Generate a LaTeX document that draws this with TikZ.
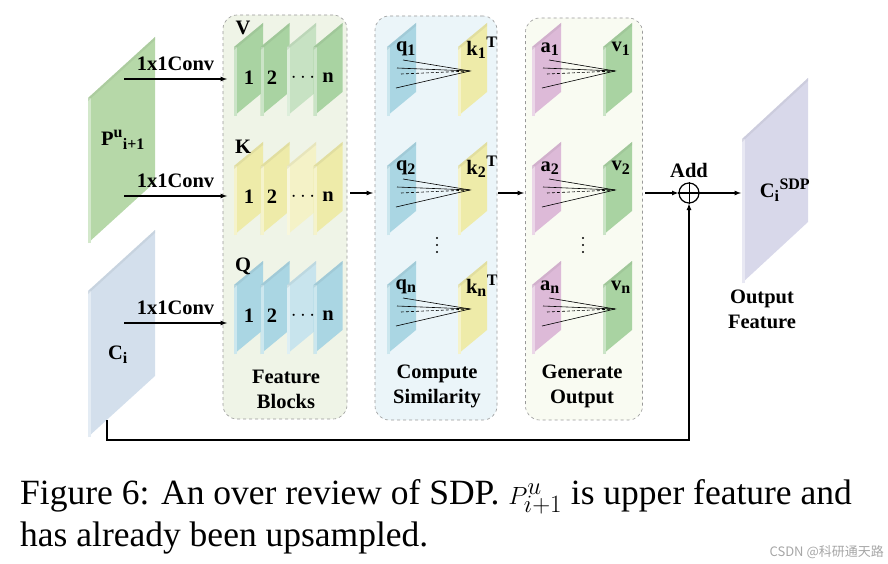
\documentclass[tikz,border=0pt]{standalone}
\usepackage{fontspec}
\setmainfont{Liberation Serif}
\newfontfamily\cjk{Noto Sans CJK SC}
\begin{document}
\begin{tikzpicture}[x=1pt,y=-1pt,
  panel/.style={draw=gray!80,dashed,rounded corners=14pt,line width=0.6pt},
  lab/.style={font=\bfseries\fontsize{20.5}{20.5}\selectfont,inner sep=0},
  two/.style={lab,align=center,font=\bfseries\fontsize{20.5}{25}\selectfont},
  arr/.style={-latex,line width=1.2pt},
  fan/.style={line width=0.6pt}]
\useasboundingbox (0,0) rectangle (888,564);
\newcommand{\myslab}[6]{%
  \fill[#6] (#1,#2) -- ++(#4,-#5) -- ++(0,#3-#2) -- ++(-#4,#5) -- cycle;
  \fill[#6!60!white] (#1,#2) -- ++(3,0) -- ++(0,#3-#2) -- ++(-3,0) -- cycle;
  \fill[#6!85!black,opacity=0.35] (#1,#2) -- ++(#4,-#5) -- ++(0,3) -- ++(-#4,#5) -- cycle;}
\newcommand{\mydots}[2]{\foreach \k in {-7,0,7}{\fill (#1,#2+\k) circle (1.2pt);}}
\newcommand{\sbs}[1]{\textsubscript{\fontsize{16}{16}\selectfont #1}}
\newcommand{\sps}[1]{\textsuperscript{\fontsize{16}{16}\selectfont #1}}
\definecolor{gP}{HTML}{B6D8A8}
\definecolor{bC}{HTML}{D3DFEC}
\definecolor{gV}{HTML}{A9D3A2}
\definecolor{yK}{HTML}{EEEBA9}
\definecolor{bQ}{HTML}{AAD6E3}
\definecolor{pA}{HTML}{DDBAD8}
\definecolor{pO}{HTML}{D8D8EA}
% panels
\node[panel,fill={rgb,255:red,239;green,244;blue,231},minimum width=124pt,minimum height=404pt] (p1) at (285,217) {};
\node[panel,fill={rgb,255:red,235;green,245;blue,249},minimum width=122pt,minimum height=404pt] (p2) at (436,218) {};
\node[panel,fill={rgb,255:red,249;green,251;blue,242},minimum width=117pt,minimum height=402pt] (p3) at (584,219) {};
% big slabs
\myslab{88}{98}{243}{67}{61}{gP}
\myslab{88}{291}{437}{67}{61}{bC}
\myslab{742}{139}{283}{66}{61}{pO}
\node[lab] (P) at (123,140) {P\sps{u}\sbs{i+1}};
\node[lab] (C) at (118,355) {C\sbs{i}};
\node[lab] (O) at (785,190) {C\sbs{i}\sps{SDP}};
% feature blocks
\foreach \r/\c/\L in {0/gV/V,1/yK/K,2/bQ/Q}{
  \pgfmathsetmacro{\t}{47+119*\r}
  \pgfmathsetmacro{\b}{116+119*\r}
  \foreach \i in {0,1,2,3}{
    \pgfmathsetmacro{\xx}{234+26.5*\i}
    \ifnum\i=2 \myslab{\xx}{\t}{\b}{29}{24}{\c!65!white}\else\myslab{\xx}{\t}{\b}{29}{24}{\c}\fi
  }
  \node[lab] at (243,\t-19) {\L};
  \node[lab] at (249,\t+31) {1};
  \node[lab] at (272,\t+31) {2};
  \node[lab] at (303,\t+31) {$\cdots$};
  \node[lab] at (328,\t+31) {n};
}
% compute similarity and generate output
\foreach \r/\s in {0/1,1/2,2/n}{
  \pgfmathsetmacro{\t}{47+119*\r}
  \pgfmathsetmacro{\b}{116+119*\r}
  \myslab{387}{\t}{\b}{29}{24}{bQ}
  \myslab{458}{\t}{\b}{29}{24}{yK}
  \myslab{532}{\t}{\b}{29}{24}{pA}
  \myslab{603}{\t}{\b}{29}{24}{gV}
  \node[lab] at (406,\t+2) {q\sbs{\s}};
  \node[lab] at (482,\t+1) {k\sbs{\s}\sps{T}};
  \node[lab] at (550,\t+2) {a\sbs{\s}};
  \node[lab] at (621,\t+2) {v\sbs{\s}};
  \foreach \x/\e in {396/470,542/615}{
    \draw[fan] (\x+7,\t+13) -- (\e,\t+24) -- (\x,\t+41);
    \draw[fan] (\x+1,\t+21) -- (\e,\t+24);
    \draw[fan,densely dashed] (\x+5,\t+27) -- (\e,\t+24);
  }
}
\mydots{437}{245}
\mydots{583}{245}
% labels
\node[two] at (286,389) {Feature\\Blocks};
\node[two] at (437,386) {Compute\\Similarity};
\node[two] at (582,386) {Generate\\Output};
\node[two] at (762,309) {Output\\Feature};
% arrows
\foreach \y/\n in {79/a,196/b,323/c}{
  \coordinate (s\n) at (124,\y); \coordinate (e\n) at (227,\y);
  \draw[arr] (s\n) -- node[lab,above=8pt] {1x1Conv} (e\n);
}
\coordinate (m1) at (350,193); \coordinate (m2) at (373,193);
\coordinate (m3) at (498,193); \coordinate (m4) at (524,193);
\coordinate (m5) at (645,193);
\draw[arr] (m1) -- (m2);
\draw[arr] (m3) -- (m4);
\node[draw,circle,line width=1.2pt,minimum size=20pt,inner sep=0] (add) at (689,193) {};
\draw[line width=1pt] (add.north) -- (add.south) (add.west) -- (add.east);
\node[lab] at (689,170) {Add};
\coordinate (m6) at (741,193);
\draw[arr] (m5) -- (add);
\draw[arr] (add) -- (m6);
\coordinate (f0) at (107,420);
\draw[arr] (f0) -- (107,440) -- (689,440) -- (add.south);
% caption
\node[anchor=base west,inner sep=0,font=\fontsize{35.5}{35.5}\selectfont] (cap1) at (20,504) {Figure 6: An over review of SDP. $P^{u}_{i+1}$ is upper feature and};
\node[anchor=base west,inner sep=0,font=\fontsize{35.5}{35.5}\selectfont] (cap2) at (20,546) {has already been upsampled.};
\node[anchor=base east,inner sep=0,text=gray!70,font=\cjk\fontsize{13}{13}\selectfont] (wm) at (884,556) {CSDN @科研通天路};
\end{tikzpicture}
\end{document}
